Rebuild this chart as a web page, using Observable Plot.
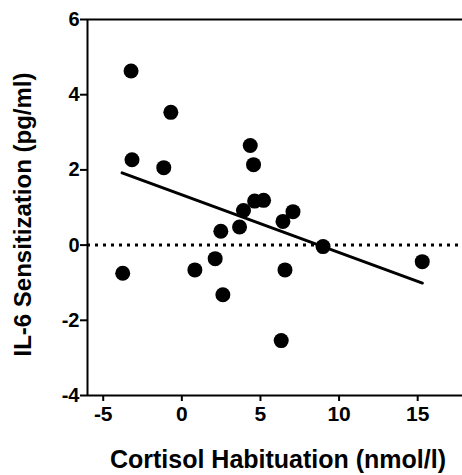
<!DOCTYPE html>
<html>
<head>
<meta charset="utf-8">
<script src="https://cdn.jsdelivr.net/npm/d3@7"></script>
<script src="https://cdn.jsdelivr.net/npm/@observablehq/plot@0.6"></script>
<style>
  html, body { margin: 0; padding: 0; background: #fff; }
  #chart svg { display: block; }
</style>
</head>
<body>
<div id="chart"></div>
<script>
// Data
const xValues = [-3.23, -0.70, -3.17, -1.15, 4.35, 4.56, 4.63, 5.20, 3.92, 7.07, 6.43, 3.67, 2.48,
                 8.98, 15.29, -3.76, 0.83, 2.12, 6.56, 2.61, 6.32];
const yValues = [4.63, 3.53, 2.27, 2.06, 2.65, 2.14, 1.17, 1.19, 0.92, 0.89, 0.63, 0.48, 0.37,
                 -0.04, -0.44, -0.75, -0.66, -0.36, -0.66, -1.32, -2.54];
const fitX = [-3.8, 15.3];
const fitY = [1.92, -1.01];
const xTicks = [-5, 0, 5, 10, 15];
const yTicks = [-4, -2, 0, 2, 4, 6];
const xTitle = "Cortisol Habituation (nmol/l)";
const yTitle = "IL-6 Sensitization (pg/ml)";

const points = xValues.map((x, i) => ({x, y: yValues[i]}));
const fit = fitX.map((x, i) => ({x, y: fitY[i]}));
const fmt = (d) => String(d); // plain hyphen-minus as in the reference

const chart = Plot.plot({
  width: 462,
  height: 475,
  marginLeft: 87,
  marginRight: 0,
  marginTop: 19,
  marginBottom: 80,
  style: {fontFamily: "'Liberation Sans', Arial, sans-serif", fontWeight: "bold", color: "#000", background: "#fff", overflow: "visible"},
  x: {domain: [-6, 17.85]},
  y: {domain: [-4, 6]},
  marks: [
    Plot.axisX({ticks: xTicks, tickFormat: fmt, tickSize: 6, tickPadding: 5, strokeWidth: 2, fontSize: 21, fontWeight: "bold", label: null}),
    Plot.axisY({ticks: yTicks, tickFormat: fmt, tickSize: 7, tickPadding: 1, strokeWidth: 2, fontSize: 20, fontWeight: "bold", label: null}),
    Plot.ruleX([-6], {stroke: "#000", strokeWidth: 2}),
    Plot.ruleY([-4, 6], {stroke: "#000", strokeWidth: 2}),
    Plot.ruleY([0], {stroke: "#000", strokeWidth: 3, strokeDasharray: "3,5"}),
    Plot.line(fit, {x: "x", y: "y", stroke: "#000", strokeWidth: 3}),
    Plot.dot(points, {x: "x", y: "y", r: 7.5, fill: "#000", stroke: "none"}),
    Plot.text([xTitle], {frameAnchor: "bottom", lineAnchor: "middle", textAnchor: "middle", dy: 64, dx: 3, fontSize: 25, fontWeight: "bold", fill: "#000"}),
    Plot.text([yTitle], {frameAnchor: "left", lineAnchor: "middle", textAnchor: "middle", rotate: -90, dx: -64, dy: 7, fontSize: 24, fontWeight: "bold", fill: "#000"})
  ]
});
document.getElementById("chart").appendChild(chart);
</script>
</body>
</html>
